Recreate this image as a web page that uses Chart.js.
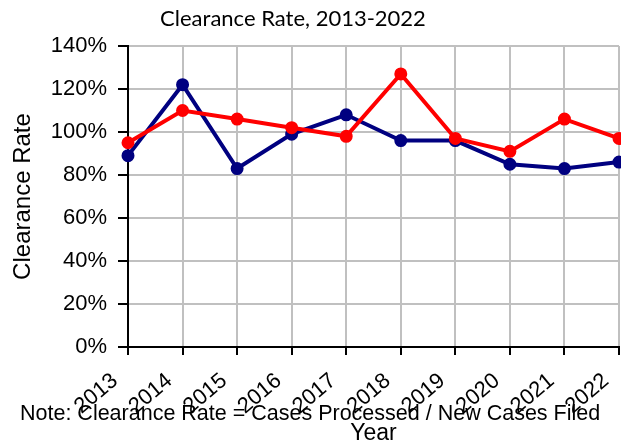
<!DOCTYPE html>
<html>
<head>
<meta charset="utf-8">
<script src="https://cdn.jsdelivr.net/npm/chart.js@4"></script>
<style>
  html, body { margin: 0; padding: 0; background: #fff; }
  #wrap { width: 621px; height: 445px; }
</style>
</head>
<body>
<div id="wrap"><canvas id="rateChart"></canvas></div>
<script>
// Data
const years = ["2013", "2014", "2015", "2016", "2017", "2018", "2019", "2020", "2021", "2022"]
const navyRates = [89, 122, 83, 99, 108, 96, 96, 85, 83, 86]
const redRates = [95, 110, 106, 102, 98, 127, 97, 91, 106, 97]
const yTicks = [0, 20, 40, 60, 80, 100, 120, 140]

const chartTitle = "Clearance Rate, 2013-2022"
const noteText = "Note: Clearance Rate = Cases Processed / New Cases Filed"

// Title and note drawn on the canvas
const textPlugin = {
  id: "textPlugin",
  afterDraw(chart) {
    const ctx = chart.ctx
    ctx.save()
    ctx.fillStyle = "#000"
    ctx.textBaseline = "alphabetic"

    ctx.font = "22px Lato"
    ctx.textAlign = "center"
    ctx.fillText(chartTitle, 293, 26)

    ctx.font = "21.5px 'Liberation Sans', Arial"
    ctx.textAlign = "left"
    ctx.fillText(noteText, 20, 420)
    ctx.restore()
  }
}

const rateChart = new Chart(document.querySelector("#rateChart"), {
  type: "line",
  data: {
    labels: years,
    datasets: [
      {
        label: "Red",
        data: redRates,
        borderColor: "#ff0000",
        backgroundColor: "#ff0000",
        borderWidth: 4,
        pointRadius: 4.5,
        tension: 0
      },
      {
        label: "Navy",
        data: navyRates,
        borderColor: "#000080",
        backgroundColor: "#000080",
        borderWidth: 4,
        pointRadius: 4.5,
        tension: 0
      }
    ]
  },
  options: {
    responsive: true,
    maintainAspectRatio: false,
    animation: false,
    layout: { autoPadding: false, padding: { top: 46, right: 2, left: 0, bottom: 0 } },
    plugins: {
      legend: { display: false },
      tooltip: { enabled: false }
    },
    scales: {
      x: {
        // rotated labels would otherwise push the plot in from the right
        afterFit: (scale) => {
          scale.height = 98
          scale.paddingLeft = 0
          scale.paddingRight = 0
        },
        grid: { color: "#c0c0c0", lineWidth: 2, tickColor: "#000", tickLength: 8 },
        border: { color: "#000", width: 2 },
        ticks: {
          color: "#000",
          font: { family: "'Liberation Sans', Arial", size: 22 },
          minRotation: 40,
          maxRotation: 40,
          padding: 13,
          labelOffset: -13
        },
        title: {
          display: true,
          text: "Year",
          color: "#000",
          font: { family: "'Liberation Sans', Arial", size: 23, lineHeight: 1 },
          padding: { top: 0, bottom: 0 }
        }
      },
      y: {
        min: 0,
        max: 140,
        afterFit: (scale) => { scale.width = 128 },
        afterBuildTicks: (scale) => { scale.ticks = yTicks.map(v => ({ value: v })) },
        grid: { color: "#c0c0c0", lineWidth: 2, tickColor: "#000", tickLength: 10 },
        border: { color: "#000", width: 2 },
        ticks: {
          color: "#000",
          font: { family: "'Liberation Sans', Arial", size: 22 },
          padding: 11,
          callback: (v) => v + "%"
        },
        title: {
          display: true,
          text: "Clearance Rate",
          color: "#000",
          font: { family: "'Liberation Sans', Arial", size: 24, lineHeight: 1.2 },
          padding: { top: 9, bottom: 0 }
        }
      }
    }
  },
  plugins: [textPlugin]
})
</script>
</body>
</html>
